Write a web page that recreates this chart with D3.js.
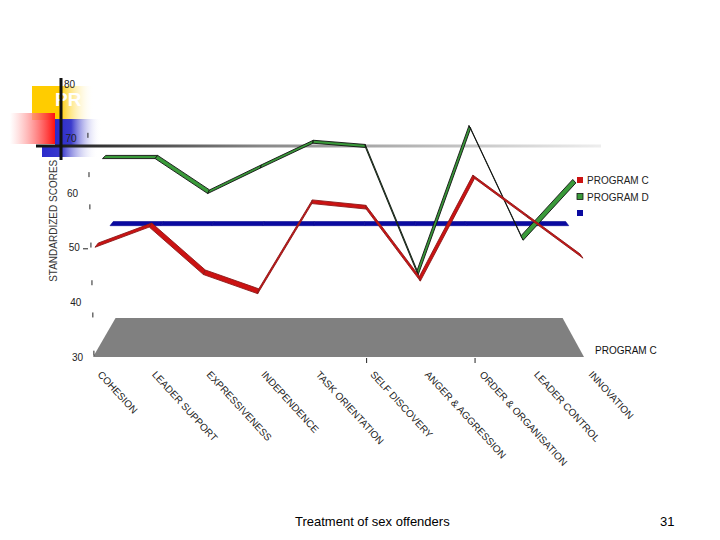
<!DOCTYPE html>
<html><head><meta charset="utf-8">
<script src="https://cdn.jsdelivr.net/npm/d3@7"></script>
<style>body{margin:0;background:#fff} svg{display:block}</style>
</head><body><svg id="c" width="720" height="540"></svg>
<script>
// ---- data ----
const categories = ["COHESION","LEADER SUPPORT","EXPRESSIVENESS","INDEPENDENCE","TASK ORIENTATION","SELF DISCOVERY","ANGER & AGGRESSION","ORDER & ORGANISATION","LEADER CONTROL","INNOVATION"];
const programC = [50.1,53.8,45.1,41.6,58.1,57.1,43.9,62.7,55.4,48.1];
const programD = [65.0,65.0,58.4,63.2,67.9,67.1,43.0,70.7,49.6,60.4];
const programBlue = [50.5,50.5,50.5,50.5,50.5,50.5,50.5,50.5,50.5,50.5];
const seriesNames = ["PROGRAM C","PROGRAM D",""];
const yTicks = [30,40,50,60,70,80];
const minorTicks = [30.7,37.7,43.6,50.5,57.5,63.4,70.6];
const xTickCats = ["SELF DISCOVERY","ORDER & ORGANISATION"];
const titleText = "PR";
const yTitle = "STANDARDIZED SCORES";
const floorLabel = "PROGRAM C";
const footerText = "Treatment of sex offenders";
const pageNum = "31";

// ---- setup ----
const svg = d3.select("#c");
const defs = svg.append("defs");
const font = "Arial, 'Liberation Sans', sans-serif";

function lg(id, stops, x1=0,y1=0,x2=1,y2=0){
  const g = defs.append("linearGradient").attr("id",id)
    .attr("x1",x1).attr("y1",y1).attr("x2",x2).attr("y2",y2);
  stops.forEach(s=>g.append("stop").attr("offset",s[0]).attr("stop-color",s[1]).attr("stop-opacity",s[2]==null?1:s[2]));
}
lg("gY",[[0,"#ffcc00"],[0.45,"#ffcc00"],[1,"#ffffff",0]]);
lg("gR",[[0,"#ffffff",0.6],[1,"#ff1010"]]);
lg("gB",[[0,"#2a2acc"],[0.35,"#3a3acc"],[1,"#ffffff",0]]);
lg("gL",[[0,"#111"],[0.4,"#888"],[1,"#eeeeee"]]);

// ---- slide decoration ----
svg.append("rect").attr("x",32).attr("y",86).attr("width",62).attr("height",34).attr("fill","url(#gY)");
svg.append("rect").attr("x",10).attr("y",113).attr("width",45).attr("height",31).attr("fill","url(#gR)");
svg.append("rect").attr("x",55).attr("y",119).attr("width",46).attr("height",27).attr("fill","url(#gB)");
svg.append("rect").attr("x",42).attr("y",146).attr("width",56).attr("height",11).attr("fill","url(#gB)");
svg.append("text").attr("x",55).attr("y",106).attr("font-family",font).attr("font-weight","bold")
  .attr("font-size",19).attr("fill","#fff").text(titleText);
svg.append("rect").attr("x",36).attr("y",144.5).attr("width",565).attr("height",3).attr("fill","url(#gL)");
svg.append("rect").attr("x",59.5).attr("y",78).attr("width",3).attr("height",82).attr("fill","#111");

// ---- scales & projection ----
const x = d3.scalePoint().domain(categories).range([95,583]).padding(0);
const xLab = d3.scalePoint().domain(categories).range([97,588]).padding(0);
const y = d3.scaleLinear().domain([30,80]).range([357,84]);
const VP = [345,-78];
const proj = (px,py,z)=>[px+(VP[0]-px)*z, py+(VP[1]-py)*z];
const floorDepth = 0.0895;

// floor
const fl = [y.domain()[0]];
const fx0 = x.range()[0]-2, fx1 = x.range()[1]+1, fy = y(fl[0]);
const floorPts = [proj(fx0,fy,0),proj(fx1,fy,0),proj(fx1,fy,floorDepth),proj(fx0,fy,floorDepth)];
svg.append("polygon").attr("points",floorPts.map(p=>p.join(",")).join(" ")).attr("fill","#808080");

// x ticks
xTickCats.forEach(c=>{
  svg.append("line").attr("x1",x(c)+0.5).attr("x2",x(c)+0.5).attr("y1",fy+1).attr("y2",fy+6)
    .attr("stroke","#222").attr("stroke-width",1);
});

// y tick labels
const labRight = v => 83 - (v-30)*0.16;
yTicks.forEach(v=>{
  svg.append("text").attr("x",labRight(v)).attr("y",y(v)+3.5).attr("text-anchor","end")
    .attr("font-family",font).attr("font-size",10).attr("fill","#222").text(v);
});
minorTicks.forEach(v=>{
  const mx = 94 - (v-30)*0.15;
  svg.append("line").attr("x1",mx).attr("x2",mx).attr("y1",y(v)-2.5).attr("y2",y(v)+2.5)
    .attr("stroke","#222").attr("stroke-width",1);
});
svg.append("line").attr("x1",83).attr("x2",88).attr("y1",y(50)+1).attr("y2",y(50)+1).attr("stroke","#222").attr("stroke-width",1);

// y title
svg.append("text").attr("transform",`translate(57,${y(50)-27}) rotate(-90)`).attr("text-anchor","middle")
  .attr("font-family",font).attr("font-size",10).attr("fill","#333").text(yTitle);

// x labels
categories.forEach(c=>{
  svg.append("text").attr("transform",`translate(${xLab(c)},375) rotate(47.5)`)
    .attr("font-family",font).attr("font-size",10).attr("fill","#222").text(c);
});

// ---- series ribbons ----
const series = [
  {vals: programBlue, z:[0.06,0.073], fill:"#0a0aa0", stroke:"#0a0a90", sw:0.6},
  {vals: programD, z:[0.03,0.043], fill:"#3a9a3a", stroke:"#111", sw:0.9},
  {vals: programC, z:[0.0,0.013], fill:"#cc1212", stroke:"#8b1a1a", sw:0.9}
];
series.forEach(s=>{
  const g = svg.append("g");
  for(let i=0;i<categories.length-1;i++){
    const x1=x(categories[i]), y1=y(s.vals[i]), x2=x(categories[i+1]), y2=y(s.vals[i+1]);
    const pts=[proj(x1,y1,s.z[0]),proj(x2,y2,s.z[0]),proj(x2,y2,s.z[1]),proj(x1,y1,s.z[1])];
    g.append("polygon").attr("points",pts.map(p=>p.join(",")).join(" "))
      .attr("fill",s.fill).attr("stroke",s.stroke).attr("stroke-width",s.sw).attr("stroke-linejoin","round");
  }
});

// ---- legend ----
const legColors = [["#cc1212","none"],["#3a9a3a","#111"],["#0a0aa0","none"]];
seriesNames.forEach((n,i)=>{
  const ly = 177 + i*16.5;
  svg.append("rect").attr("x",577).attr("y",ly).attr("width",6).attr("height",6)
    .attr("fill",legColors[i][0]).attr("stroke",legColors[i][1]).attr("stroke-width",0.8);
  svg.append("text").attr("x",587).attr("y",ly+7).attr("font-family",font).attr("font-size",10)
    .attr("fill","#222").text(n);
});

svg.append("text").attr("x",595).attr("y",354).attr("font-family",font).attr("font-size",10)
  .attr("fill","#111").text(floorLabel);

// footer
svg.append("text").attr("x",295).attr("y",526).attr("font-family",font).attr("font-size",13)
  .attr("fill","#000").text(footerText);
svg.append("text").attr("x",660).attr("y",526).attr("font-family",font).attr("font-size",13)
  .attr("fill","#000").text(pageNum);
</script></body></html>
